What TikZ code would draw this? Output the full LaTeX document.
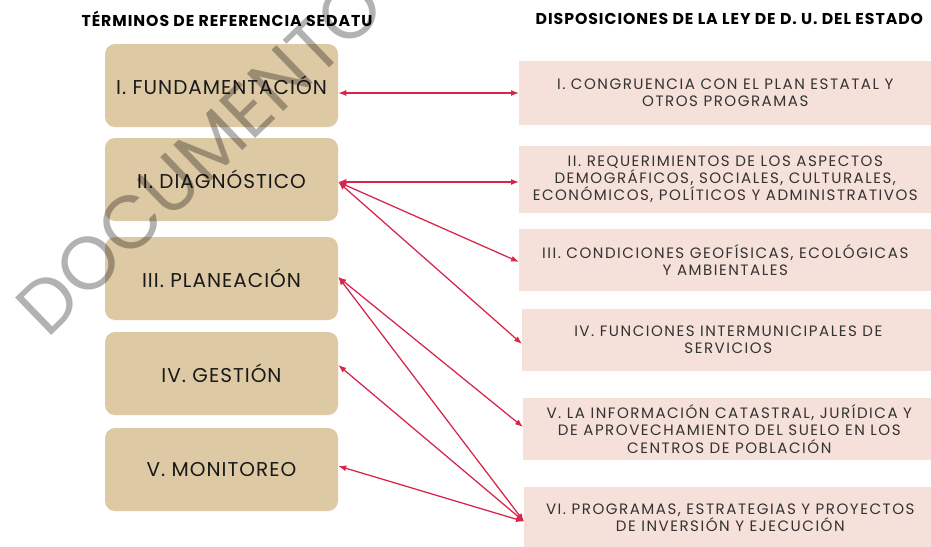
\documentclass[tikz,border=0pt]{standalone}
\usepackage{fontspec}
\setmainfont{Poppins}
\usetikzlibrary{arrows.meta,shapes}
\definecolor{tanbox}{RGB}{221,201,164}
\definecolor{pinkbox}{RGB}{246,225,218}
\definecolor{linkred}{RGB}{215,38,73}
\tikzstyle{termino}=[rectangle,rounded corners=7.5pt,fill=tanbox,minimum width=174.75pt,minimum height=62.25pt,inner sep=0pt,font=\fontsize{15}{17}\selectfont\addfontfeature{LetterSpace=5},text=black!90]
\tikzstyle{disposicion}=[rectangle,fill=pinkbox,anchor=west,minimum width=309pt,inner sep=0pt,align=center,font=\fontsize{11.3}{12.9}\selectfont\addfontfeature{LetterSpace=10},text=black!80]
\tikzstyle{titulo}=[font=\bfseries\fontsize{11.8}{13}\selectfont\addfontfeature{LetterSpace=6}]
\tikzstyle{link}=[draw,linkred,line width=0.95pt,{Latex[length=6pt,width=4.5pt]}-{Latex[length=6pt,width=4.5pt]}]
\tikzstyle{marca}=[font=\fontsize{56}{60}\selectfont,text=black,text opacity=0.3]

\begin{document}
\begin{tikzpicture}[x=0.75pt,y=-0.75pt]
    \useasboundingbox (0,0) rectangle (931,546);
    \clip (0,0) rectangle (931,546);
    % Column titles
    \node[titulo] (tit1) at (227,19) {TÉRMINOS DE REFERENCIA SEDATU};
    \node[titulo,anchor=west] (tit2) at (531,19) {DISPOSICIONES DE LA LEY DE D. U. DEL ESTADO};

    % Terms of reference on the left
    \foreach \pos/\name/\texto in {{(221.5,85.5)/t1/I. FUNDAMENTACIÓN}, {(221.5,179.5)/t2/II. DIAGNÓSTICO},
        {(221.5,278.5)/t3/III. PLANEACIÓN}, {(221.5,373.5)/t4/IV. GESTIÓN}, {(221.5,469.5)/t5/V. MONITOREO}}
        \node[termino] (\name) at \pos {\texto};

    % Provisions of the law on the right
    \foreach \pos/\name/\alto/\texto in {
        {(519,93)/c1/64/{I. CONGRUENCIA CON EL PLAN ESTATAL Y\\OTROS PROGRAMAS}},
        {(519,179.5)/c2/67/{II. REQUERIMIENTOS DE LOS ASPECTOS\\DEMOGRÁFICOS, SOCIALES, CULTURALES,\\ECONÓMICOS, POLÍTICOS Y ADMINISTRATIVOS}},
        {(519,260)/c3/62/{III. CONDICIONES GEOFÍSICAS, ECOLÓGICAS\\Y AMBIENTALES}},
        {(522,340)/c4/62/{IV. FUNCIONES INTERMUNICIPALES DE\\SERVICIOS}},
        {(523,429)/c5/62/{V. LA INFORMACIÓN CATASTRAL, JURÍDICA Y\\DE APROVECHAMIENTO DEL SUELO EN LOS\\CENTROS DE POBLACIÓN}},
        {(524,518)/c6/62/{VI. PROGRAMAS, ESTRATEGIAS Y PROYECTOS\\DE INVERSIÓN Y EJECUCIÓN}}}
        \node[disposicion,minimum height=\alto*0.75pt] (\name) at \pos {\texto};

    % Connect terms with provisions
    \foreach \source/\sy/\dest/\dy in {t1/-7.5/c1/0, t2/-2.5/c2/-2.5, t2/-2.5/c3/-2, t2/-2.5/c4/-4,
        t3/1.5/c5/2, t3/1.5/c6/-3.5, t4/8.5/c6/-3.5, t5/3.5/c6/-3.5}
        \path[link] ([yshift=\sy*0.75pt]\source.east) -- ([yshift=\dy*0.75pt]\dest.west);

    % Watermark
    \node[marca,rotate=44] (sello) at (200,156) {DOCUMENTO};
\end{tikzpicture}
\end{document}
